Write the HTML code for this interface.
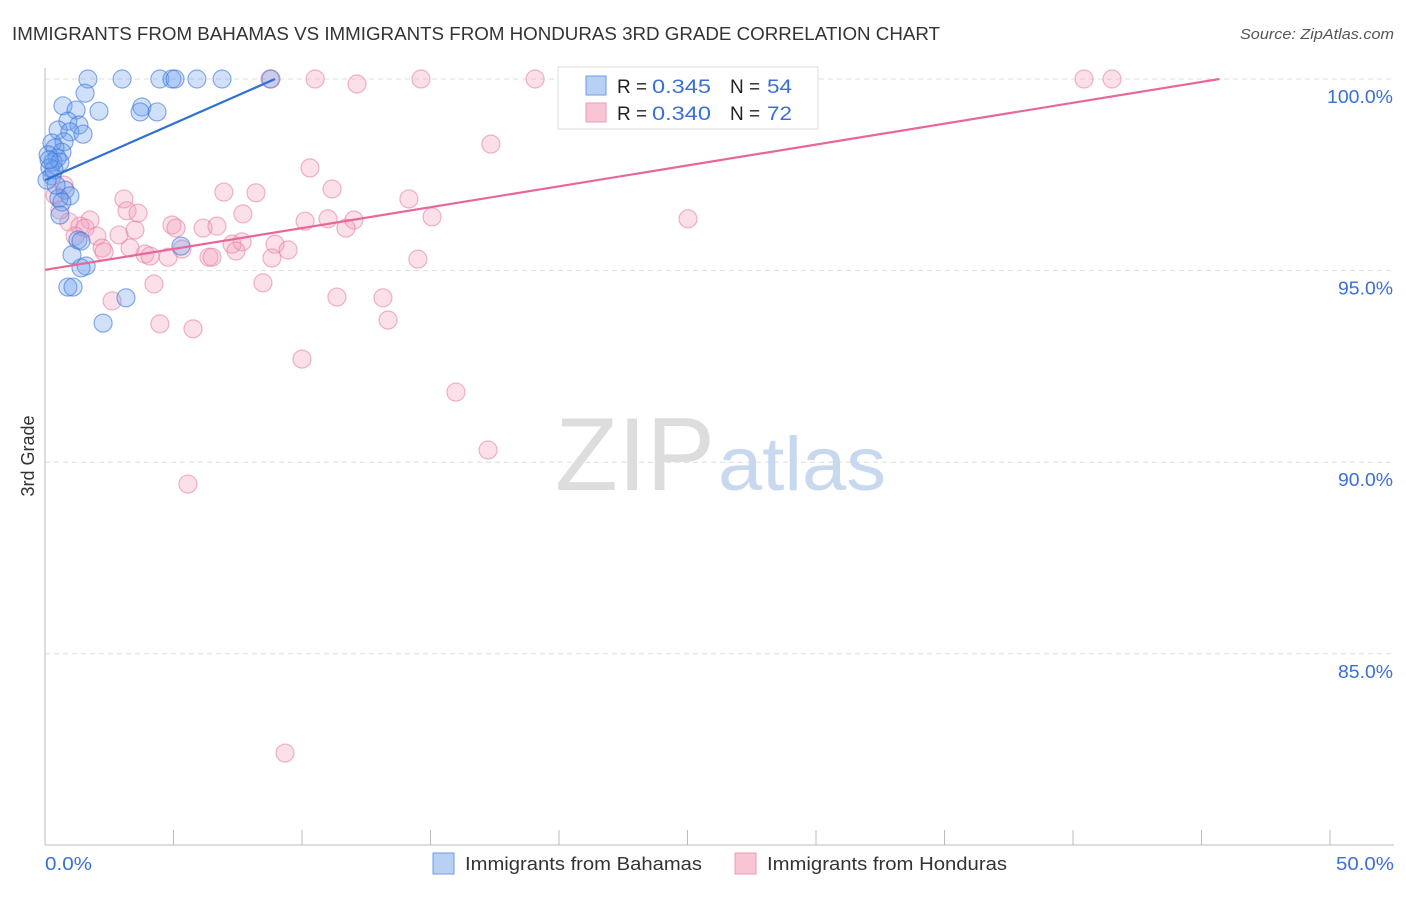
<!DOCTYPE html>
<html><head><meta charset="utf-8"><style>
body{margin:0;background:#fff;font-family:"Liberation Sans",sans-serif;}
svg text{font-family:"Liberation Sans",sans-serif;}
</style></head><body>
<svg id="chart" width="1406" height="892" xmlns="http://www.w3.org/2000/svg">
<text x="12" y="40" font-size="18" fill="#333" textLength="928" lengthAdjust="spacingAndGlyphs">IMMIGRANTS FROM BAHAMAS VS IMMIGRANTS FROM HONDURAS 3RD GRADE CORRELATION CHART</text>
<text x="1240" y="39" font-size="15" fill="#555" font-style="italic" textLength="154" lengthAdjust="spacingAndGlyphs">Source: ZipAtlas.com</text>
<g id="grid"></g>
<text x="555" y="490" font-size="104" fill="#ddd" textLength="160" lengthAdjust="spacingAndGlyphs" font-family="Liberation Serif">ZIP</text>
<text x="718" y="490" font-size="76" fill="#c8d8ef" textLength="168" lengthAdjust="spacingAndGlyphs">atlas</text>
<g id="pts"></g>
<g id="lines"></g>
<text x="34" y="456" font-size="18" fill="#333" text-anchor="middle" transform="rotate(-90 34 456)">3rd Grade</text>
<text x="45" y="870" font-size="18" fill="#3a6fd8" textLength="47" lengthAdjust="spacingAndGlyphs">0.0%</text>
<text x="1336" y="870" font-size="18" fill="#3a6fd8" textLength="58" lengthAdjust="spacingAndGlyphs">50.0%</text>
<g>
<rect x="558" y="67" width="260" height="62" fill="#fff" stroke="#ddd"/>
<rect x="586" y="76" width="20" height="19" fill="#b7d0f3" stroke="#6f9ee6"/>
<rect x="586" y="103" width="20" height="19" fill="#f8c5d4" stroke="#ec9ab3"/>
<text x="617" y="93" font-size="19" fill="#222">R = </text><text x="652" y="93" font-size="19" fill="#3a6fd8" textLength="59" lengthAdjust="spacingAndGlyphs">0.345</text>
<text x="730" y="93" font-size="19" fill="#222">N = </text><text x="767" y="93" font-size="19" fill="#3a6fd8" textLength="25" lengthAdjust="spacingAndGlyphs">54</text>
<text x="617" y="120" font-size="19" fill="#222">R = </text><text x="652" y="120" font-size="19" fill="#3a6fd8" textLength="59" lengthAdjust="spacingAndGlyphs">0.340</text>
<text x="730" y="120" font-size="19" fill="#222">N = </text><text x="767" y="120" font-size="19" fill="#3a6fd8" textLength="25" lengthAdjust="spacingAndGlyphs">72</text>
</g>
<g>
<rect x="433" y="853" width="21" height="21" fill="#b7d0f3" stroke="#6f9ee6"/>
<text x="465" y="870" font-size="18" fill="#333" textLength="237" lengthAdjust="spacingAndGlyphs">Immigrants from Bahamas</text>
<rect x="735" y="853" width="21" height="21" fill="#f8c5d4" stroke="#ec9ab3"/>
<text x="767" y="870" font-size="18" fill="#333" textLength="240" lengthAdjust="spacingAndGlyphs">Immigrants from Honduras</text>
</g>
</svg>
<script>
const yTicks=[100,95,90,85];
const xTicks=[0,5,10,15,20,25,30,35,40,45,50];
const blueX=[1.67,3.0,4.47,4.94,5.06,5.91,6.89,8.79,1.56,0.70,1.21,2.10,3.77,3.70,4.36,0.89,1.32,0.51,0.97,1.48,0.27,0.74,0.39,0.66,0.12,0.47,0.31,0.58,0.19,0.27,0.08,0.78,0.97,0.54,0.66,1.28,1.40,1.05,1.60,1.40,0.89,1.09,3.15,2.26,5.29,0.35,0.16,0.43,0.58];
const blueY=[100,100,100,100,100,100,100,100,99.63,99.30,99.19,99.16,99.27,99.14,99.14,98.90,98.80,98.67,98.62,98.56,98.33,98.36,98.20,98.09,98.02,97.94,97.83,97.83,97.68,97.47,97.36,97.10,96.95,96.89,96.79,95.80,95.77,95.41,95.12,95.07,94.57,94.57,94.29,93.63,95.64,97.63,97.89,97.23,96.45];
const pinkX=[8.75,10.51,12.14,14.63,19.07,23.74,24.24,27.43,28.21,40.43,41.52,17.35,10.31,11.17,6.96,8.21,14.16,3.07,25.02,15.06,3.19,3.62,7.70,1.75,0.93,10.12,11.01,12.02,11.71,4.94,5.10,6.15,6.69,1.36,1.56,2.88,3.50,2.02,7.28,7.67,8.95,9.46,2.22,3.89,4.09,4.79,6.38,6.50,7.43,8.83,14.51,5.33,8.48,4.24,11.36,13.15,2.61,4.47,5.76,13.35,10.0,15.99,17.24,5.56,9.34,0.39,0.58,0.74,1.17,2.30,3.31];
const pinkY=[100,100,99.87,100,100,100,100,100,100,100,100,98.30,97.68,97.13,97.05,97.03,96.87,96.87,96.35,96.40,96.56,96.50,96.48,96.32,96.27,96.29,96.35,96.32,96.11,96.19,96.11,96.11,96.16,96.16,96.11,95.93,96.06,95.90,95.69,95.75,95.69,95.54,95.59,95.43,95.38,95.35,95.35,95.35,95.51,95.33,95.30,95.56,94.68,94.65,94.31,94.29,94.21,93.61,93.48,93.71,92.69,91.83,90.32,89.43,82.41,96.97,96.58,97.23,95.90,95.49,95.59];
const blueTrend=[0,97.36,8.95,100];
const pinkTrend=[0,95.02,45.7,100];
const NS="http://www.w3.org/2000/svg";
const sx=v=>45+v/50*1285;
const sy=v=>79+(100-v)/5*191.6;
function mk(t,a,p){const e=document.createElementNS(NS,t);for(const k in a)e.setAttribute(k,a[k]);p.appendChild(e);return e;}
const g=document.getElementById('grid');
yTicks.forEach(v=>{
 const l=mk('line',{x1:45,x2:1394,y1:sy(v),y2:sy(v),stroke:'#ddd','stroke-dasharray':'5,4'},g);
 
 
 const t=mk('text',{x:1327,y:sy(v)+24,'font-size':18,fill:'#3a6fd8',textLength:66,lengthAdjust:'spacingAndGlyphs'},g);
 t.textContent=v.toFixed(1)+'%';
 if(v<100){t.setAttribute('x',1338);t.setAttribute('textLength',55);}
 
 
});
mk('line',{x1:45,x2:45,y1:68,y2:845,stroke:'#bbb'},g);
mk('line',{x1:45,x2:1394,y1:845,y2:845,stroke:'#bbb'},g);
xTicks.forEach(v=>{
 const l=mk('line',{x1:sx(v),x2:sx(v),y1:830,y2:845,stroke:'#bbb'},g);
 
 
});
const P=document.getElementById('pts');
pinkX.forEach((x,i)=>{
 const c=mk('circle',{cx:sx(x),cy:sy(pinkY[i]),r:9,fill:'rgba(244,160,188,0.32)',stroke:'rgba(230,120,155,0.55)','stroke-width':1.2},P);
 
 
});
blueX.forEach((x,i)=>{
 const c=mk('circle',{cx:sx(x),cy:sy(blueY[i]),r:9,fill:'rgba(110,160,235,0.32)',stroke:'rgba(60,120,220,0.6)','stroke-width':1.2},P);
 
 
});
const L=document.getElementById('lines');
const bl=mk('line',{x1:sx(blueTrend[0]),y1:sy(blueTrend[1]),x2:sx(blueTrend[2]),y2:sy(blueTrend[3]),stroke:'#2f6fd6','stroke-width':2.2},L);


const pl=mk('line',{x1:sx(pinkTrend[0]),y1:sy(pinkTrend[1]),x2:sx(pinkTrend[2]),y2:sy(pinkTrend[3]),stroke:'#e8679a','stroke-width':2.2},L);


</script>
</body></html>
